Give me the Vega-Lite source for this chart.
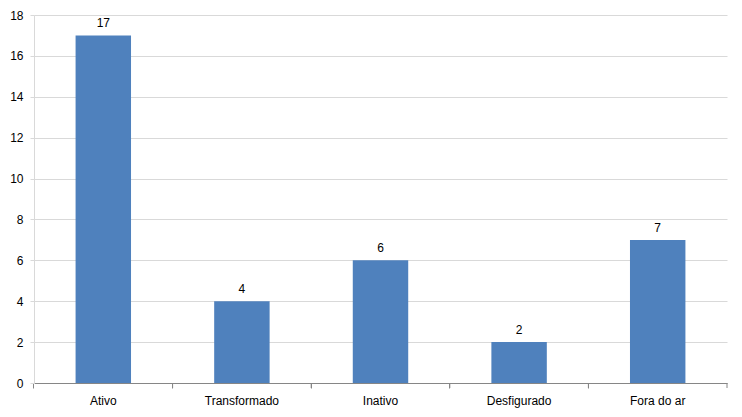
{
  "$schema": "https://vega.github.io/schema/vega-lite/v6.json",
  "width": 693,
  "height": 368,
  "autosize": {"type": "none"},
  "padding": {"left": 34, "top": 15, "right": 15, "bottom": 34},
  "background": "white",
  "data": {
    "values": [
      {"status": "Ativo", "n": 17},
      {"status": "Transformado", "n": 4},
      {"status": "Inativo", "n": 6},
      {"status": "Desfigurado", "n": 2},
      {"status": "Fora do ar", "n": 7}
    ]
  },
  "encoding": {
    "x": {
      "field": "status",
      "type": "nominal",
      "sort": null,
      "scale": {"paddingInner": 0.6, "paddingOuter": 0.3},
      "axis": {
        "title": null,
        "labelAngle": 0,
        "labelFont": "Liberation Sans",
        "labelFontSize": 12,
        "labelColor": "#000000",
        "labelPadding": 7,
        "domainColor": "#868686",
        "tickColor": "#868686",
        "tickSize": 5,
        "bandPosition": -0.75
      }
    },
    "y": {
      "field": "n",
      "type": "quantitative",
      "scale": {"domain": [0, 18]},
      "axis": {
        "title": null,
        "values": [0, 2, 4, 6, 8, 10, 12, 14, 16, 18],
        "labelFont": "Liberation Sans",
        "labelFontSize": 12,
        "labelColor": "#000000",
        "labelPadding": 7,
        "tickSize": 4,
        "tickColor": "#D9D9D9",
        "domainColor": "#D9D9D9",
        "gridColor": "#D9D9D9"
      }
    }
  },
  "layer": [
    {"mark": {"type": "bar", "color": "#4F81BD"}},
    {
      "mark": {
        "type": "text",
        "dy": -8,
        "baseline": "alphabetic",
        "font": "Liberation Sans",
        "fontSize": 12,
        "color": "#000000"
      },
      "encoding": {"text": {"field": "n", "type": "quantitative"}}
    },
    {
      "mark": {"type": "rule", "color": "#868686", "y2Offset": 5},
      "encoding": {
        "x": {"field": "status", "type": "nominal", "sort": null, "bandPosition": 1.75},
        "y": {"datum": 0},
        "y2": {"datum": 0}
      }
    }
  ],
  "config": {"view": {"stroke": null}}
}
